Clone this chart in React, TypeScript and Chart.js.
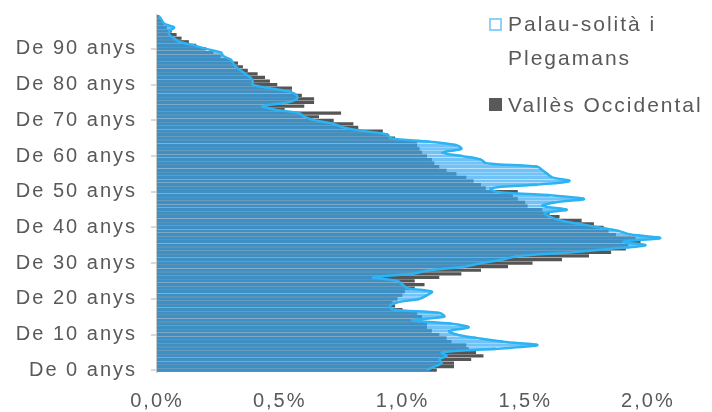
import React, { useEffect, useRef } from 'react';
import { Chart, registerables } from 'chart.js';

Chart.register(...registerables);

// Categories: single years of age, 0..99
const ages: number[] = Array.from({ length: 100 }, (_, i) => i);
const ageLabels: string[] = ages.map((a) => `De ${a} anys`);

// Share of population (%) by single year of age
const palau: number[] = [
  1.10, 1.13, 1.16, 1.15, 1.18, 1.16, 1.38, 1.55, 1.41, 1.30,
  1.22, 1.19, 1.27, 1.20, 1.04, 1.17, 1.15, 0.96, 0.95, 0.98,
  1.07, 1.10, 1.12, 1.02, 1.00, 0.98, 0.88, 1.04, 1.11, 1.25,
  1.32, 1.41, 1.47, 1.68, 1.85, 1.99, 1.90, 2.05, 1.93, 1.88,
  1.80, 1.72, 1.64, 1.60, 1.58, 1.67, 1.57, 1.62, 1.74, 1.60,
  1.38, 1.36, 1.55, 1.68, 1.61, 1.59, 1.57, 1.55, 1.34, 1.32,
  1.24, 1.16, 1.24, 1.22, 1.11, 0.95, 0.94, 0.84, 0.76, 0.72,
  0.64, 0.60, 0.58, 0.48, 0.43, 0.53, 0.57, 0.57, 0.54, 0.46,
  0.39, 0.39, 0.38, 0.36, 0.34, 0.32, 0.31, 0.30, 0.27, 0.26,
  0.20, 0.15, 0.09, 0.07, 0.05, 0.05, 0.07, 0.03, 0.02, 0.01,
];

const valles: number[] = [
  1.14, 1.21, 1.21, 1.28, 1.33, 1.30, 1.27, 1.26, 1.20, 1.18,
  1.15, 1.12, 1.10, 1.10, 1.08, 1.08, 1.06, 1.00, 0.97, 0.96,
  0.98, 1.00, 1.01, 1.05, 1.09, 1.05, 1.15, 1.24, 1.32, 1.43,
  1.53, 1.65, 1.76, 1.85, 1.91, 1.92, 1.97, 1.95, 1.87, 1.84,
  1.82, 1.78, 1.73, 1.64, 1.60, 1.57, 1.51, 1.50, 1.47, 1.45,
  1.47, 1.34, 1.32, 1.29, 1.26, 1.22, 1.18, 1.15, 1.13, 1.12,
  1.10, 1.08, 1.07, 1.06, 1.06, 0.97, 0.94, 0.92, 0.82, 0.80,
  0.72, 0.66, 0.75, 0.52, 0.60, 0.64, 0.64, 0.59, 0.55, 0.55,
  0.49, 0.46, 0.44, 0.41, 0.37, 0.35, 0.33, 0.30, 0.26, 0.23,
  0.20, 0.16, 0.13, 0.10, 0.08, 0.06, 0.04, 0.03, 0.02, 0.01,
];

const xTickValues: number[] = [0, 0.5, 1.0, 1.5, 2.0];
const yLabelEvery = 10;

const seriesNames = ['Palau-solità i Plegamans', 'Vallès Occidental'];

const FONT = "'Liberation Sans', Arial, sans-serif";
const TEXT = '#595959';

const spacingPlugin = {
  id: 'letterSpacing',
  beforeDraw(chart: any) {
    chart.ctx.letterSpacing = '2px';
  },
  afterDraw(chart: any) {
    chart.ctx.letterSpacing = '0px';
  },
};

export default function App() {
  const ref = useRef<HTMLCanvasElement | null>(null);

  useEffect(() => {
    const canvas = ref.current;
    if (!canvas) return;
    const chart = new Chart(canvas, {
      data: {
        labels: ageLabels,
        datasets: [
          {
            type: 'line',
            label: seriesNames[0] + ' (línia)',
            data: palau,
            borderColor: '#2bb3f3',
            borderWidth: 2.5,
            pointRadius: 0,
            tension: 0.35,
            fill: false,
            order: 0,
          } as any,
          {
            type: 'bar',
            label: seriesNames[0],
            data: palau,
            backgroundColor: 'rgba(51,168,244,0.7)',
            borderWidth: 0,
            grouped: false,
            barPercentage: 0.9,
            categoryPercentage: 1,
            order: 1,
          } as any,
          {
            type: 'bar',
            label: seriesNames[1],
            data: valles,
            backgroundColor: '#555555',
            borderWidth: 0,
            grouped: false,
            barPercentage: 0.9,
            categoryPercentage: 1,
            order: 2,
          } as any,
        ],
      },
      options: {
        indexAxis: 'y',
        responsive: false,
        animation: false,
        layout: { padding: { top: 15, right: 15, left: 0, bottom: 0 } },
        plugins: {
          legend: { display: false },
          tooltip: { enabled: false },
        },
        scales: {
          x: {
            type: 'linear',
            min: 0,
            max: 2.2,
            afterBuildTicks: (scale: any) => {
              scale.ticks = xTickValues.map((v) => ({ value: v }));
            },
            afterFit: (scale: any) => {
              scale.height = 40;
              scale.paddingLeft = 0;
              scale.paddingRight = 0;
            },
            grid: { display: false, drawTicks: false },
            border: { display: false },
            ticks: {
              padding: 17,
              color: TEXT,
              font: { family: FONT, size: 20 },
              callback: (v: any) => Number(v).toFixed(1).replace('.', ',') + '%',
            },
          },
          y: {
            type: 'category',
            reverse: true,
            afterFit: (scale: any) => {
              scale.width = 157;
              scale.paddingTop = 0;
              scale.paddingBottom = 0;
            },
            grid: {
              offset: false,
              drawOnChartArea: false,
              drawTicks: true,
              tickLength: 6,
              lineWidth: 2,
              color: (ctx: any) => (ctx.index % yLabelEvery === 0 ? '#d9d9d9' : 'rgba(0,0,0,0)'),
            },
            border: { display: true, color: '#c8c8c8', width: 1.5 },
            ticks: {
              autoSkip: false,
              padding: 14,
              color: TEXT,
              font: { family: FONT, size: 20 },
              callback: (_v: any, i: number) => (i % yLabelEvery === 0 ? ageLabels[i] : ''),
            },
          },
        },
      } as any,
      plugins: [spacingPlugin],
    });
    return () => chart.destroy();
  }, []);

  const legendText: React.CSSProperties = {
    position: 'absolute',
    left: 508,
    fontFamily: FONT,
    fontSize: 21,
    lineHeight: '34px',
    letterSpacing: '2px',
    color: TEXT,
    width: 204,
    whiteSpace: 'normal',
  };

  return (
    <div style={{ position: 'absolute', left: 0, top: 0, width: 712, height: 412, background: '#fff', overflow: 'hidden' }}>
      <canvas ref={ref} width={712} height={412} style={{ width: 712, height: 412, display: 'block' }} />
      <div style={{ position: 'absolute', left: 489, top: 18, width: 9, height: 9, border: '2px solid #8fd0f5', background: '#fff' }} />
      <div style={{ ...legendText, top: 7 }}>{seriesNames[0]}</div>
      <div style={{ position: 'absolute', left: 489, top: 98, width: 13, height: 13, background: '#595959' }} />
      <div style={{ ...legendText, top: 88 }}>{seriesNames[1]}</div>
    </div>
  );
}
